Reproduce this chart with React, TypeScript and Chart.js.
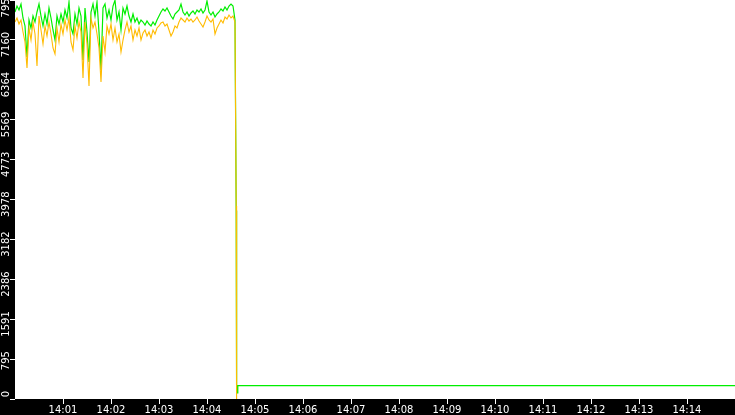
import { useEffect, useRef } from "react";
import { Chart, registerables } from "chart.js";
import type { Plugin, Scale } from "chart.js";

Chart.register(...registerables);

// minute ticks along the bottom band (axis runs 14:00 → 14:15)
const timeLabels = [
  "14:01", "14:02", "14:03", "14:04", "14:05", "14:06", "14:07",
  "14:08", "14:09", "14:10", "14:11", "14:12", "14:13", "14:14"
];
const yTickLabels = ["0", "795", "1591", "2386", "3182", "3978", "4773", "5569", "6364", "7160", "7956"];
const yMax = 7956;
const windowSeconds = 900;

// one reading every 2.5 s from 14:00:00
const sampleSeconds = 2.5;

const greenValues = [
  7717, 7836, 7757, 7876, 7597, 7438, 6819, 7557, 7398, 7637,
  7517, 7717, 7876, 7637, 7438, 7677, 7477, 7796, 7597, 7358,
  7158, 7637, 7477, 7677, 7517, 7757, 7597, 7916, 7398, 7278,
  7677, 7477, 7796, 7637, 6760, 7796, 7318, 6720, 7717, 7876,
  7637, 7916, 7318, 6560, 7796, 7876, 7597, 7757, 7557, 7836,
  7950, 7557, 7717, 7358, 7796, 7677, 7836, 7637, 7517, 7677,
  7517, 7597, 7477, 7557, 7517, 7458, 7537, 7477, 7438, 7517,
  7458, 7557, 7637, 7717, 7777, 7737, 7796, 7717, 7637, 7577,
  7677, 7717, 7757, 7876, 7717, 7657, 7717, 7637, 7697, 7737,
  7677, 7757, 7717, 7777, 7697, 7757, 7936, 7717, 7657, 7717,
  7617, 7677, 7717, 7777, 7737, 7816, 7757, 7836, 7876, 7836,
  7557
];

const orangeValues = [
  7517, 7597, 7477, 7557, 7318, 7119, 6600, 7398, 7158, 7517,
  7278, 6640, 7637, 7358, 7079, 7438, 7238, 7517, 7278, 6999,
  6879, 7398, 7119, 7477, 7278, 7557, 7358, 7597, 7119, 6959,
  7438, 7198, 7517, 7318, 6401, 7517, 7079, 6241, 7597, 7398,
  7517, 7278, 6999, 6321, 7238, 6919, 7438, 7278, 7477, 7158,
  7398, 7119, 7278, 6919, 7158, 7358, 7517, 7318, 7438, 7158,
  7358, 7238, 7398, 7158, 7298, 7358, 7238, 7318, 7198, 7358,
  7278, 7398, 7438, 7497, 7517, 7438, 7477, 7358, 7238, 7318,
  7438, 7398, 7517, 7597, 7557, 7517, 7597, 7537, 7577, 7517,
  7557, 7617, 7537, 7477, 7418, 7517, 7637, 7557, 7517, 7577,
  7278, 7398, 7477, 7557, 7497, 7617, 7577, 7657, 7597, 7637,
  7517
];

// [seconds, value] after the feed collapses at ~14:04:37
const greenTail = [[276.5, 3760], [277, 120], [278.2, 120], [278.5, 265], [900, 265]];
const orangeTail = [[276.5, 3850], [277, 0]];

function toPoints(values: number[], tail: number[][]) {
  const points = values.map((y, i) => ({ x: i * sampleSeconds, y }));
  tail.forEach(([x, y]) => points.push({ x, y }));
  return points;
}

const bandPlugin: Plugin<"line"> = {
  id: "bands",
  beforeDraw(chart) {
    const { ctx, chartArea, width, height } = chart;
    ctx.save();
    ctx.fillStyle = "#000000";
    ctx.fillRect(0, 0, width, height);
    ctx.fillStyle = "#ffffff";
    ctx.fillRect(chartArea.left, chartArea.top, chartArea.right - chartArea.left, chartArea.bottom - chartArea.top);
    ctx.restore();
  }
};

const tickFont = { family: "'DejaVu Sans', sans-serif", size: 10 };

export default function App() {
  const canvasRef = useRef<HTMLCanvasElement | null>(null);

  useEffect(() => {
    document.body.style.margin = "0";
    const canvas = canvasRef.current;
    if (!canvas) return;

    const chart = new Chart(canvas, {
      type: "line",
      data: {
        datasets: [
          // first dataset is painted last, so orange sits on top
          {
            label: "orange",
            data: toPoints(orangeValues, orangeTail),
            borderColor: "#ffbb00",
            borderWidth: 1.1,
            pointRadius: 0,
            tension: 0,
            fill: false
          },
          {
            label: "green",
            data: toPoints(greenValues, greenTail),
            borderColor: "#00ee00",
            borderWidth: 1.2,
            pointRadius: 0,
            tension: 0,
            fill: false
          }
        ]
      },
      options: {
        responsive: false,
        animation: false,
        layout: { padding: 0 },
        plugins: {
          legend: { display: false },
          tooltip: { enabled: false }
        },
        scales: {
          x: {
            type: "linear",
            min: 0,
            max: windowSeconds,
            afterBuildTicks: (scale: Scale) => {
              scale.ticks = timeLabels.map((_, i) => ({ value: (i + 1) * 60 }));
            },
            afterFit: (scale: Scale) => {
              scale.height = 16;
              scale.paddingLeft = 0;
              scale.paddingRight = 0;
            },
            grid: {
              drawOnChartArea: false,
              tickColor: "#ffffff",
              tickLength: 5
            },
            border: { display: false },
            ticks: {
              color: "#ffffff",
              font: tickFont,
              padding: 0,
              maxRotation: 0,
              autoSkip: false,
              callback: (_value, index) => timeLabels[index]
            }
          },
          y: {
            min: 0,
            max: yMax,
            afterBuildTicks: (scale: Scale) => {
              scale.ticks = yTickLabels.map((_, i) => ({ value: (yMax * i) / 10 }));
            },
            afterFit: (scale: Scale) => {
              scale.width = 15;
              scale.paddingTop = 0;
              scale.paddingBottom = 0;
            },
            grid: {
              drawOnChartArea: false,
              tickColor: "#ffffff",
              tickLength: 5
            },
            border: { display: false },
            ticks: {
              color: "#ffffff",
              font: tickFont,
              padding: 4,
              minRotation: 90,
              maxRotation: 90,
              labelOffset: -8,
              autoSkip: false,
              callback: (_value, index) => yTickLabels[index]
            }
          }
        }
      },
      plugins: [bandPlugin]
    });

    return () => chart.destroy();
  }, []);

  return (
    <div style={{ width: 735, height: 415 }}>
      <canvas ref={canvasRef} width={735} height={415} style={{ display: "block" }} />
    </div>
  );
}
